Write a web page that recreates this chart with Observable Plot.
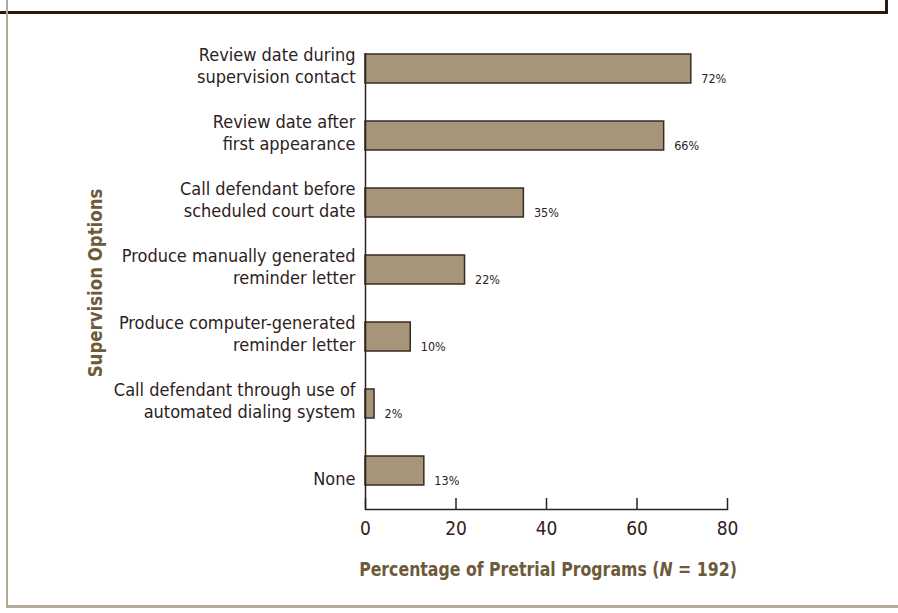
<!DOCTYPE html>
<html>
<head>
<meta charset="utf-8">
<script src="https://cdn.jsdelivr.net/npm/d3@7"></script>
<script src="https://cdn.jsdelivr.net/npm/@observablehq/plot@0.6"></script>
<style>
  html, body { margin: 0; padding: 0; background: #fff; }
  #wrap { position: relative; width: 898px; height: 613px; overflow: hidden; font-family: "DejaVu Sans Condensed", "Liberation Sans Narrow", sans-serif; }
  #wrap svg { position: absolute; left: 0; top: 0; }
  .line { position: absolute; }
  #xtitle { position: absolute; left: 0; width: 1096px; top: 557px; text-align: center; font-weight: bold; font-size: 20px; color: #6d5a3b; transform: scaleX(0.875); transform-origin: 548px 50%; }
  #ytitle { position: absolute; left: 95px; top: 283px; transform: translate(-50%, -50%) rotate(-90deg) scaleX(0.97); white-space: nowrap; font-weight: bold; font-size: 19px; color: #6d5a3b; }
</style>
</head>
<body>
<div id="wrap">
  <div class="line" style="left:0;top:11px;width:888px;height:3px;background:#2a1a10"></div>
  <div class="line" style="left:885px;top:0;width:3px;height:14px;background:#2a1a10"></div>
  <div class="line" style="left:6px;top:0;width:2px;height:608px;background:#b3aa9a"></div>
  <div class="line" style="left:6px;top:605px;width:892px;height:3px;background:#b3aa9a"></div>
  <div id="xtitle">Percentage of Pretrial Programs (<i>N</i> = 192)</div>
  <div id="ytitle">Supervision Options</div>
</div>
<script>
const categories = [
  "Review date during\nsupervision contact",
  "Review date after\nfirst appearance",
  "Call defendant before\nscheduled court date",
  "Produce manually generated\nreminder letter",
  "Produce computer-generated\nreminder letter",
  "Call defendant through use of\nautomated dialing system",
  "None"
];
const values = [72, 66, 35, 22, 10, 2, 13];
const xTicks = [0, 20, 40, 60, 80];

const data = categories.map((c, i) => ({category: c, value: values[i]}));
const FONT = '"DejaVu Sans Condensed", "Liberation Sans Narrow", sans-serif';

const chart = Plot.plot({
  width: 898,
  height: 613,
  marginLeft: 365,
  marginRight: 171,
  marginTop: 53,
  marginBottom: 104,
  style: {fontFamily: FONT, background: "transparent", color: "#2e221c"},
  x: {domain: [0, 80]},
  y: {domain: categories, range: [29.5, 509], paddingInner: 0.567, paddingOuter: 0.358, axis: null},
  marks: [
    Plot.barX(data, {x: "value", y: "category", fill: "#a69579", stroke: "#3b2a22", strokeWidth: 1.5}),
    Plot.text(data, {x: 0, y: "category", text: "category", textAnchor: "end", lineAnchor: "bottom", dx: -10, dy: 14, fontSize: 18, lineHeight: 1.25, fill: "#2e221c"}),
    Plot.text(data, {x: "value", y: "category", text: d => d.value + "%", textAnchor: "start", lineAnchor: "bottom", dx: 10, dy: 14, fontSize: 12.5, fill: "#2e221c"}),
    Plot.ruleX([0], {stroke: "#2e221c", strokeWidth: 1.5}),
    Plot.frame({anchor: "bottom", stroke: "#2e221c", strokeWidth: 1.5}),
    Plot.axisX({ticks: xTicks, tickSize: 11, dy: -11, tickFormat: () => "", label: null, stroke: "#2e221c", strokeWidth: 1.5}),
    Plot.axisX({ticks: xTicks, tickSize: 0, tickPadding: 12, fontSize: 19, label: null, fill: "#2e221c"})
  ]
});
document.getElementById("wrap").appendChild(chart);
</script>
</body>
</html>
